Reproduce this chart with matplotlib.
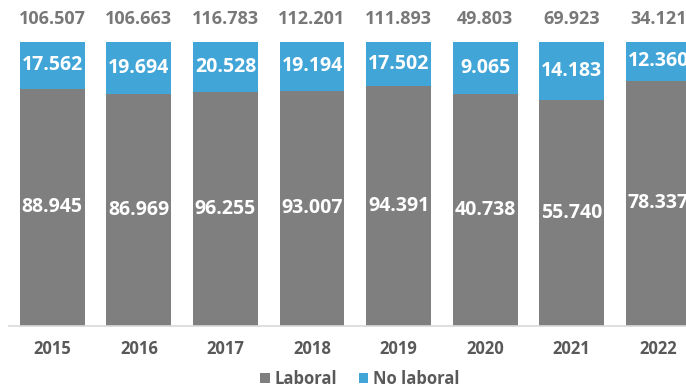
import matplotlib
matplotlib.use("Agg")
import matplotlib.pyplot as plt
import numpy as np

years = ["2015", "2016", "2017", "2018", "2019", "2020", "2021", "2022"]
laboral = [88.945, 86.969, 96.255, 93.007, 94.391, 40.738, 55.740, 78.337]
no_laboral = [17.562, 19.694, 20.528, 19.194, 17.502, 9.065, 14.183, 12.360]
totales = ["106.507", "106.663", "116.783", "112.201", "111.893", "49.803", "69.923", "34.121"]
lab_labels = ["88.945", "86.969", "96.255", "93.007", "94.391", "40.738", "55.740", "78.337"]
nolab_labels = ["17.562", "19.694", "20.528", "19.194", "17.502", "9.065", "14.183", "12.360"]

GREY = "#7f7f7f"
BLUE = "#42a5d8"
FONT = "Open Sans"

fig = plt.figure(figsize=(6.86, 3.89), dpi=100)
ax = fig.add_axes([9/686, 1-326/389, 1-9/686, (326-42)/389])

x = np.arange(len(years))
lab = np.array(laboral)
nol = np.array(no_laboral)
tot = lab + nol
lab_p = lab / tot
nol_p = nol / tot

ax.bar(x, lab_p, width=0.75, color=GREY, label="Laboral")
ax.bar(x, nol_p, width=0.75, bottom=lab_p, color=BLUE, label="No laboral")

for i in range(len(years)):
    ax.text(x[i], lab_p[i]/2, lab_labels[i], ha="center", va="center", color="white",
            fontsize=14, fontweight="bold", family=FONT)
    ax.text(x[i], lab_p[i] + nol_p[i]/2, nolab_labels[i], ha="center", va="center", color="white",
            fontsize=14, fontweight="bold", family=FONT)
    ax.text(x[i], 1.082, totales[i], ha="center", va="center", color="#787878",
            fontsize=13, fontweight="bold", family=FONT)

ax.set_xlim(-0.5, 7.32)
ax.set_ylim(0, 1)
for s in ["top", "right", "left"]:
    ax.spines[s].set_visible(False)
ax.spines["bottom"].set_color("#d9d9d9")
ax.spines["bottom"].set_linewidth(1.2)
ax.set_yticks([])
ax.set_xticks(x)
ax.set_xticklabels(years, fontsize=12, fontweight="bold", color="#595959", family=FONT)
ax.tick_params(axis="x", length=0, pad=10)

leg = fig.legend(loc="center", bbox_to_anchor=(360/686, 1-379/389), ncol=2, frameon=False,
                 handlelength=0.55, handleheight=0.55, handletextpad=0.3, columnspacing=1.3,
                 prop={"family": FONT, "size": 12, "weight": "bold"})
for t in leg.get_texts():
    t.set_color("#595959")

fig.savefig("out.png", dpi=100)
